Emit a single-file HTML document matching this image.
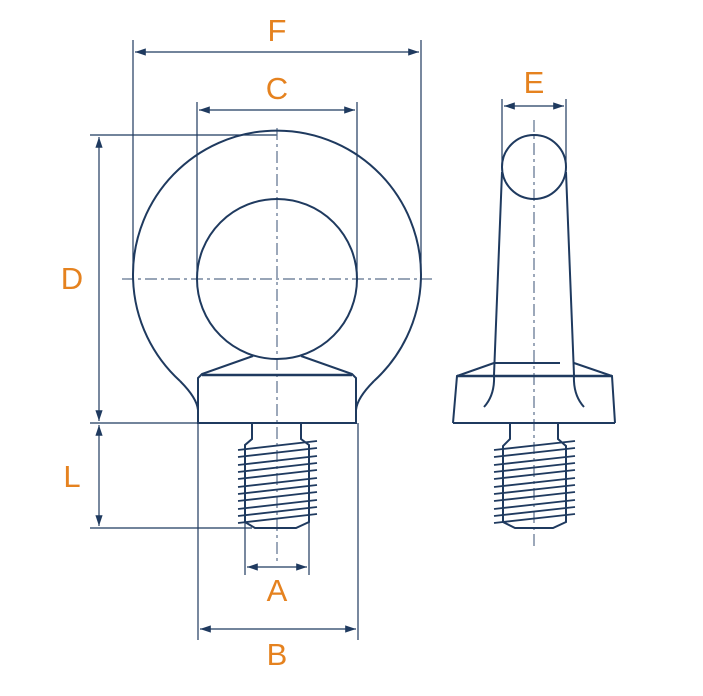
<!DOCTYPE html>
<html><head><style>
html,body{margin:0;padding:0;background:#fff;}
svg{display:block;}
text{font-family:"Liberation Sans",sans-serif;font-size:31px;fill:#e5821f;text-anchor:middle;}
</style></head><body>
<svg width="703" height="696" viewBox="0 0 703 696" xmlns="http://www.w3.org/2000/svg">
<defs>
<marker id="ar" viewBox="0 0 12 10" refX="12" refY="5" markerWidth="12" markerHeight="9" markerUnits="userSpaceOnUse" orient="auto-start-reverse">
<path d="M0,1 L12,5 L0,9 z" fill="#1f3a5f"/></marker>
</defs>
<g stroke="#1f3a5f" fill="none">
<g stroke-width="1.2">
<line x1="133" y1="40" x2="133" y2="278"/><line x1="421" y1="40" x2="421" y2="278"/>
<line x1="197" y1="102" x2="197" y2="278"/><line x1="357" y1="102" x2="357" y2="278"/>
<line x1="90" y1="135" x2="277" y2="135"/>
<line x1="90" y1="423" x2="198" y2="423"/>
<line x1="90" y1="528" x2="252" y2="528"/>
<line x1="245" y1="445" x2="245" y2="575"/><line x1="309" y1="445" x2="309" y2="575"/>
<line x1="198" y1="423" x2="198" y2="640"/><line x1="358" y1="423" x2="358" y2="640"/>
<line x1="502" y1="99" x2="502" y2="167"/><line x1="566" y1="99" x2="566" y2="167"/>
<line x1="135" y1="52" x2="419" y2="52" marker-start="url(#ar)" marker-end="url(#ar)"/>
<line x1="199" y1="110" x2="355" y2="110" marker-start="url(#ar)" marker-end="url(#ar)"/>
<line x1="99" y1="137" x2="99" y2="421" marker-start="url(#ar)" marker-end="url(#ar)"/>
<line x1="99" y1="425" x2="99" y2="526" marker-start="url(#ar)" marker-end="url(#ar)"/>
<line x1="247" y1="567" x2="307" y2="567" marker-start="url(#ar)" marker-end="url(#ar)"/>
<line x1="200" y1="629" x2="356" y2="629" marker-start="url(#ar)" marker-end="url(#ar)"/>
<line x1="504" y1="106" x2="564" y2="106" marker-start="url(#ar)" marker-end="url(#ar)"/>
</g>
<g stroke-width="1.2" stroke-dasharray="12,4,3,4" stroke="#5a6f8c">
<line x1="122" y1="279" x2="432" y2="279"/>
<line x1="277" y1="128" x2="277" y2="562"/>
<line x1="534" y1="120" x2="534" y2="548"/>
</g>
<g stroke-width="2">
<circle cx="277" cy="279" r="80"/>
<path d="M180,381 A144,144 0 1 1 374,381"/>
<path d="M180,381 Q197,398 198,410 L198,423 L356,423 L356,410 Q357,398 374,381"/>
<path d="M198,423 L198,378 L202,374 L253,356"/>
<path d="M356,423 L356,378 L352,374 L301,356"/>
<line x1="202" y1="375" x2="352" y2="375" stroke-width="2.5"/>
<path d="M252,423 L252,439 L245,445 L245,522 L255,528 L296,528 L309,522 L309,445 L301,439 L301,423"/>
<g stroke-width="1.8">
<line x1="238" y1="450" x2="317" y2="441"/><line x1="238" y1="457" x2="317" y2="448"/>
<line x1="238" y1="465" x2="317" y2="456"/><line x1="238" y1="472" x2="317" y2="463"/>
<line x1="238" y1="479" x2="317" y2="470"/><line x1="238" y1="487" x2="317" y2="478"/>
<line x1="238" y1="494" x2="317" y2="485"/><line x1="238" y1="501" x2="317" y2="492"/>
<line x1="238" y1="509" x2="317" y2="500"/><line x1="238" y1="516" x2="317" y2="507"/>
<line x1="238" y1="523" x2="317" y2="514"/>
</g>
</g>
<g stroke-width="2">
<circle cx="534" cy="167" r="32"/>
<path d="M502,172 L494,375 Q495,395 484,407"/>
<path d="M566,172 L574,375 Q573,395 584,407"/>
<path d="M453,423 L457,376 L494,363"/>
<path d="M615,423 L612,376 L574,363"/>
<line x1="457" y1="376" x2="612" y2="376" stroke-width="2.5"/>
<line x1="494" y1="363" x2="560" y2="363"/>
<line x1="453" y1="423" x2="615" y2="423"/>
<path d="M510,423 L510,439 L503,446 L503,522 L515,528 L553,528 L566,522 L566,446 L558,439 L558,423"/>
<g stroke-width="1.8">
<line x1="494" y1="450" x2="575" y2="441"/><line x1="494" y1="457" x2="575" y2="448"/>
<line x1="494" y1="465" x2="575" y2="456"/><line x1="494" y1="472" x2="575" y2="463"/>
<line x1="494" y1="479" x2="575" y2="470"/><line x1="494" y1="487" x2="575" y2="478"/>
<line x1="494" y1="494" x2="575" y2="485"/><line x1="494" y1="501" x2="575" y2="492"/>
<line x1="494" y1="509" x2="575" y2="500"/><line x1="494" y1="516" x2="575" y2="507"/>
<line x1="494" y1="523" x2="575" y2="514"/>
</g>
</g>
</g>
<text x="277" y="41">F</text>
<text x="277" y="99">C</text>
<text x="534" y="93">E</text>
<text x="72" y="289">D</text>
<text x="72" y="487">L</text>
<text x="277" y="601">A</text>
<text x="277" y="665">B</text>
</svg>
</body></html>
